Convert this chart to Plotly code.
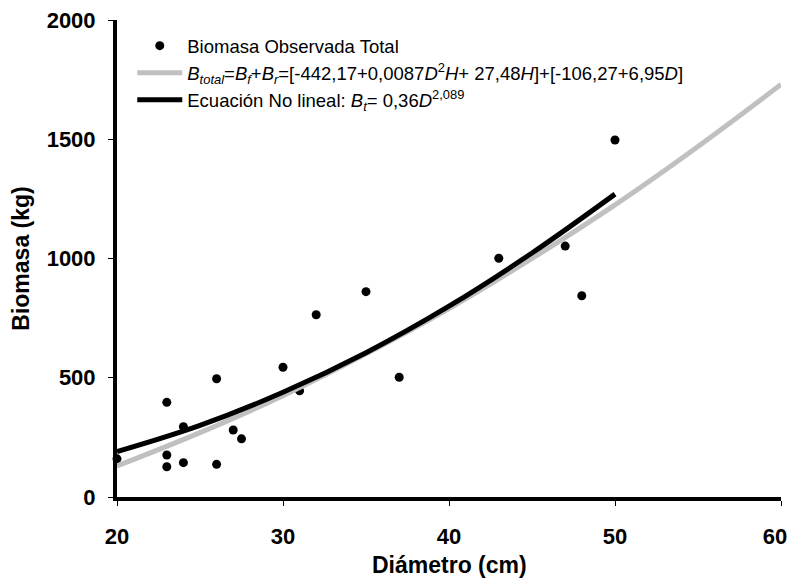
import plotly.graph_objects as go

# Observed data (Diámetro cm, Biomasa kg)
obs_diametro = [20, 23, 23, 23, 24, 24, 26, 26, 27, 27.5, 30, 31, 32, 35, 37, 43, 47, 48, 50]
obs_biomasa = [160, 397, 176, 127, 144, 295, 496, 137, 281, 244, 544, 445, 764, 861, 502, 1001, 1052, 844, 1497]

# Gray curve: B_total model
total_diametro = [20, 25, 30, 35, 40, 45, 50, 55, 60]
total_biomasa = [130, 270, 425, 600, 790, 1000, 1225, 1470, 1730]

# Black curve: non-linear equation
nl_diametro = [20, 25, 30, 35, 40, 45, 50]
nl_biomasa = [190, 300, 439, 605, 800, 1023, 1270]

x_ticks = [20, 30, 40, 50, 60]
x_ticktext = ["20", "30", "40", "50", "60\u00a0\u00a0"]
y_ticks = [0, 500, 1000, 1500, 2000]

FONT = "Liberation Sans, Arial, sans-serif"

fig = go.Figure()
fig.add_trace(go.Scatter(
    x=obs_diametro, y=obs_biomasa, mode="markers",
    marker=dict(color="black", size=9),
    name="Biomasa Observada Total", cliponaxis=False))
fig.add_trace(go.Scatter(
    x=total_diametro, y=total_biomasa, mode="lines",
    line=dict(color="rgb(192,192,192)", width=5, shape="spline"),
    name="<i>B</i><sub><i>total</i></sub>=<i>B</i><sub><i>f</i></sub>+<i>B</i><sub><i>r</i></sub>"
         "=[-442,17+0,0087<i>D</i><sup>2</sup><i>H</i>+ 27,48<i>H</i>]+[-106,27+6,95<i>D</i>]",
    cliponaxis=False))
fig.add_trace(go.Scatter(
    x=nl_diametro, y=nl_biomasa, mode="lines",
    line=dict(color="black", width=5, shape="spline"),
    name="Ecuación No lineal: <i>B</i><sub><i>t</i></sub>= 0,36<i>D</i><sup>2,089</sup>",
    cliponaxis=False))

fig.update_layout(
    width=788, height=574,
    margin=dict(l=109, r=15, t=12, b=85, autoexpand=False),
    paper_bgcolor="white", plot_bgcolor="white",
    font=dict(family=FONT, color="black", size=18),
    showlegend=True,
    legend=dict(x=0.023, y=0.985, xanchor="left", yanchor="top",
                bgcolor="rgba(0,0,0,0)", font=dict(size=18.5, family=FONT),
                tracegroupgap=0, itemwidth=45),
    xaxis=dict(range=[20, 60], tickvals=x_ticks, ticktext=x_ticktext,
               automargin=False, ticklabeloverflow="allow",
               showline=True, linecolor="black", linewidth=4,
               ticks="outside", ticklen=5, tickwidth=1, tickcolor="black",
               ticklabelstandoff=12,
               showgrid=False, zeroline=False,
               tickfont=dict(size=22, family=FONT, weight="bold")),
    yaxis=dict(range=[0, 2000], tickvals=y_ticks, automargin=False,
               ticklabeloverflow="allow",
               showline=True, linecolor="black", linewidth=4,
               ticks="outside", ticklen=5, tickwidth=1, tickcolor="black",
               ticklabelstandoff=8,
               showgrid=False, zeroline=False,
               tickfont=dict(size=22, family=FONT, weight="bold"),
               title=dict(text="Biomasa (kg)", standoff=16,
                          font=dict(size=23, family=FONT, weight="bold"))),
    annotations=[dict(text="Diámetro (cm)", xref="paper", yref="paper",
                      x=0.5, y=-0.1426, xanchor="center", yanchor="middle",
                      showarrow=False,
                      font=dict(size=23, family=FONT, weight="bold", color="black"))],
)

fig.write_html("out.html")
